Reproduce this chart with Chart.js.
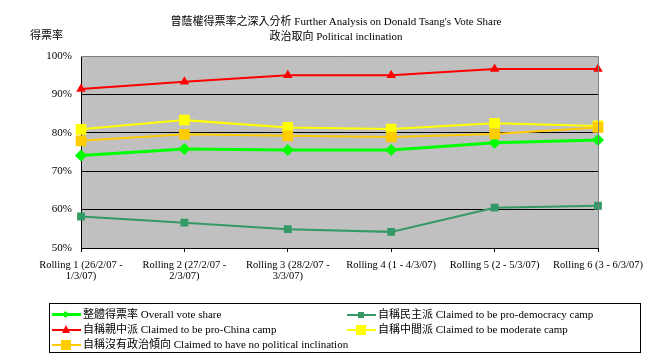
<!DOCTYPE html>
<html>
<head>
<meta charset="utf-8">
<script src="https://cdn.jsdelivr.net/npm/chart.js@4.4.1/dist/chart.umd.min.js"></script>
<style>
  html, body { margin: 0; padding: 0; background: #fff; }
  #wrap { position: relative; width: 672px; height: 362px; overflow: hidden; font-family: 'Liberation Serif', 'Noto Sans CJK TC', serif; color: #000; }
  #c { position: absolute; left: 0; top: 0; }
  .t { position: absolute; white-space: nowrap; font-size: 11px; line-height: 13px; }
  #title1, #title2 { left: 0; width: 672px; text-align: center; }
  #legend { position: absolute; left: 49px; top: 303px; width: 590px; height: 48px; border: 1px solid #000; }
  .lg { position: absolute; height: 14px; }
  .lg .ln { position: absolute; left: 0; width: 29px; top: 6px; height: 3px; }
  .lg .mk { position: absolute; }
  .lg .tx { position: absolute; left: 31px; top: 0; font-size: 11px; line-height: 14px; white-space: nowrap; }
</style>
</head>
<body>
<div id="wrap">
  <canvas id="c" width="672" height="362"></canvas>
  <div class="t" id="title1" style="top:15px;"></div>
  <div class="t" id="title2" style="top:30px;"></div>
  <div class="t" id="ylab" style="left:30px;top:29px;"></div>
  <div id="legend"></div>
</div>
<script>
const titleLines = ["曾蔭權得票率之深入分析 Further Analysis on Donald Tsang's Vote Share", "政治取向 Political inclination"];
const yAxisTitle = "得票率";
const categories = [
  ["Rolling 1 (26/2/07 -", "1/3/07)"],
  ["Rolling 2 (27/2/07 -", "2/3/07)"],
  ["Rolling 3 (28/2/07 -", "3/3/07)"],
  ["Rolling 4 (1 - 4/3/07)"],
  ["Rolling 5 (2 - 5/3/07)"],
  ["Rolling 6 (3 - 6/3/07)"]
];
const yTicks = [50, 60, 70, 80, 90, 100];
const seriesNames = [
  "整體得票率 Overall vote share",
  "自稱民主派 Claimed to be pro-democracy camp",
  "自稱親中派 Claimed to be pro-China camp",
  "自稱中間派 Claimed to be moderate camp",
  "自稱沒有政治傾向 Claimed to have no political inclination"
];
const overall      = [74.1, 75.8, 75.5, 75.5, 77.4, 78.1];
const proDemocracy = [58.2, 56.6, 54.9, 54.2, 60.5, 61.0];
const proChina     = [91.4, 93.3, 95.0, 95.0, 96.6, 96.6];
const moderate     = [80.9, 83.3, 81.4, 81.0, 82.5, 81.8];
const noInclination= [77.9, 79.6, 79.2, 78.9, 79.7, 81.4];

document.getElementById('title1').textContent = titleLines[0];
document.getElementById('title2').textContent = titleLines[1];
document.getElementById('ylab').textContent = yAxisTitle;

const FONT = "'Liberation Serif', 'Noto Sans CJK TC', serif";

const styles = [
  { color: '#00FF00', width: 3, style: 'rectRot', radius: 6, order: 4 },
  { color: '#339966', width: 2, style: 'rect', radius: 5.5, order: 3 },
  { color: '#FF0000', width: 2, style: 'triangle', radius: 5.5, order: 2 },
  { color: '#FFFF00', width: 2, style: 'rect', radius: 7.5, order: 1 },
  { color: '#FFCC00', width: 2, style: 'rect', radius: 7.5, order: 0 }
];
const seriesData = [overall, proDemocracy, proChina, moderate, noInclination];

const datasets = seriesData.map((d, i) => ({
  label: seriesNames[i],
  data: d,
  borderColor: styles[i].color,
  backgroundColor: styles[i].color,
  borderWidth: styles[i].width,
  pointStyle: styles[i].style,
  pointRadius: styles[i].radius,
  pointBorderWidth: 0,
  pointBackgroundColor: styles[i].color,
  tension: 0,
  order: styles[i].order
}));

const bgPlugin = {
  id: 'bg',
  beforeDraw(chart) {
    const a = chart.chartArea, ctx = chart.ctx;
    ctx.save();
    ctx.fillStyle = '#C0C0C0';
    ctx.fillRect(a.left, a.top, a.right - a.left, a.bottom - a.top);
    ctx.restore();
  },
  afterDatasetsDraw(chart) {
    const a = chart.chartArea, ctx = chart.ctx;
    ctx.save();
    ctx.strokeStyle = '#808080';
    ctx.lineWidth = 1;
    ctx.beginPath();
    ctx.moveTo(a.left, a.top + 0.5);
    ctx.lineTo(a.right + 0.5, a.top + 0.5);
    ctx.lineTo(a.right + 0.5, a.bottom);
    ctx.stroke();
    ctx.restore();
  }
};

new Chart(document.getElementById('c'), {
  type: 'line',
  data: { labels: categories, datasets },
  options: {
    responsive: false,
    animation: false,
    layout: { padding: { left: 0, right: 74, top: 56, bottom: 0 } },
    plugins: { legend: { display: false }, title: { display: false }, tooltip: { enabled: false } },
    scales: {
      x: {
        type: 'category',
        offset: false,
        afterFit(s) { s.height = 114; },
        border: { display: true, color: '#000', width: 1 },
        grid: { display: true, drawOnChartArea: false, drawTicks: true, tickLength: 4, color: '#000' },
        ticks: { color: '#000', font: { family: FONT, size: 10.5, lineHeight: 1.05 }, padding: 8, maxRotation: 0, autoSkip: false }
      },
      y: {
        min: 50, max: 100,
        afterFit(s) { s.width = 81; },
        afterBuildTicks(s) { s.ticks = yTicks.map(v => ({ value: v })); },
        border: { display: true, color: '#000', width: 1 },
        grid: {
          drawTicks: false,
          color: ctx => (ctx.tick && (ctx.tick.value === 100 || ctx.tick.value === 50)) ? 'rgba(0,0,0,0)' : '#000',
          lineWidth: 1
        },
        ticks: { color: '#000', font: { family: FONT, size: 11 }, padding: 9, callback: v => v + '%' }
      }
    }
  },
  plugins: [bgPlugin]
});

// HTML legend built from the datasets
const legendPos = [
  { col: 0, row: 0 }, { col: 1, row: 0 },
  { col: 0, row: 1 }, { col: 1, row: 1 },
  { col: 0, row: 2 }
];
const colX = [2, 297];
const rowY = [3, 18, 33];
const legend = document.getElementById('legend');
datasets.forEach((ds, i) => {
  const p = legendPos[i];
  const el = document.createElement('div');
  el.className = 'lg';
  el.style.left = colX[p.col] + 'px';
  el.style.top = rowY[p.row] + 'px';
  const ln = document.createElement('div');
  ln.className = 'ln';
  ln.style.background = ds.borderColor;
  ln.style.height = ds.borderWidth + 'px';
  ln.style.top = (7.5 - ds.borderWidth / 2) + 'px';
  el.appendChild(ln);
  const mk = document.createElement('div');
  mk.className = 'mk';
  if (ds.pointStyle === 'rectRot') {
    mk.style.cssText = 'left:11px;top:5px;width:5px;height:5px;transform:rotate(45deg);background:' + ds.borderColor;
  } else if (ds.pointStyle === 'triangle') {
    mk.style.cssText = 'left:10px;top:3px;width:0;height:0;border-left:4px solid transparent;border-right:4px solid transparent;border-bottom:8px solid ' + ds.borderColor;
  } else {
    const s = ds.pointRadius > 6 ? 10 : 6;
    mk.style.cssText = 'left:' + (14 - s / 2) + 'px;top:' + (7.5 - s / 2) + 'px;width:' + s + 'px;height:' + s + 'px;background:' + ds.borderColor;
  }
  el.appendChild(mk);
  const tx = document.createElement('div');
  tx.className = 'tx';
  tx.textContent = ds.label;
  el.appendChild(tx);
  legend.appendChild(el);
});
</script>
</body>
</html>
